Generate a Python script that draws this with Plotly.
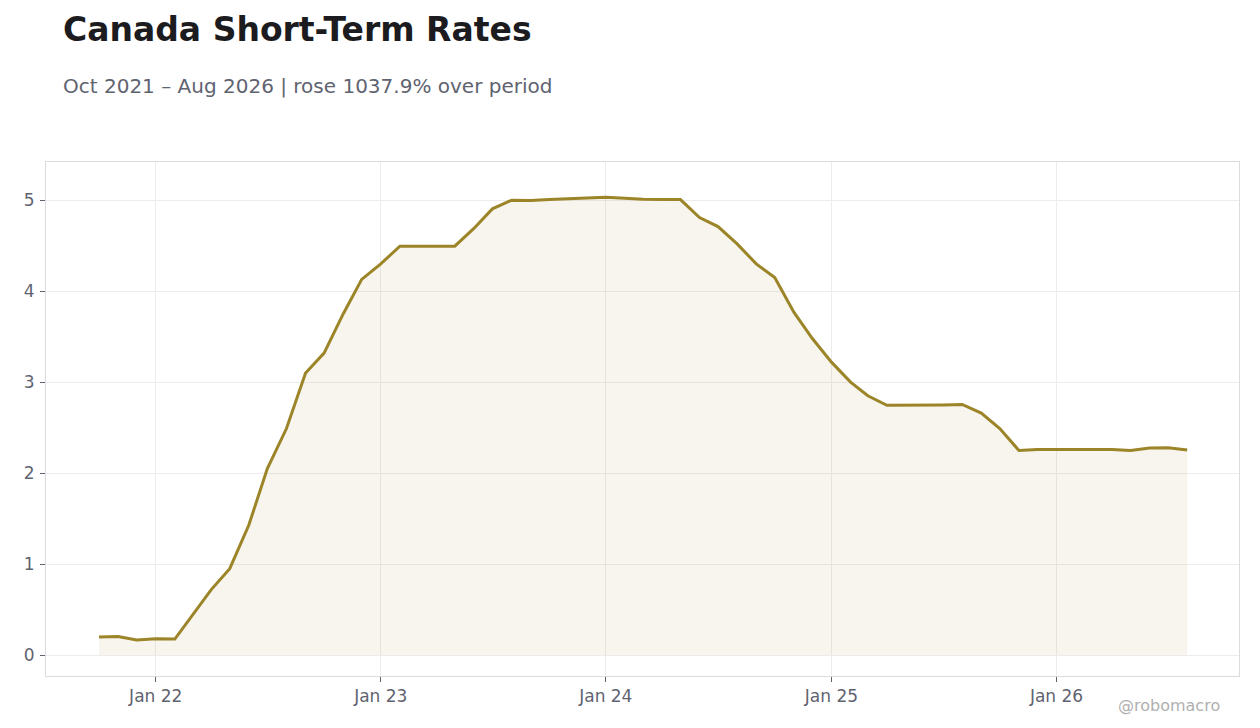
import pandas as pd
import plotly.graph_objects as go

# monthly short-term rate, %, Oct 2021 .. Aug 2026
months = pd.date_range("2021-10-01", "2026-08-01", freq="MS")
rates = [
    0.198, 0.205, 0.165, 0.18, 0.176, 0.44, 0.72, 0.95, 1.43, 2.05, 2.49, 3.10,
    3.32, 3.75, 4.13, 4.30, 4.495, 4.495, 4.495, 4.495, 4.69, 4.905, 5.00, 4.996,
    5.007, 5.018, 5.022, 5.033, 5.022, 5.01, 5.007, 5.007, 4.81, 4.71, 4.52, 4.30,
    4.15, 3.77, 3.48, 3.22, 3.00, 2.85, 2.745, 2.745, 2.748, 2.75, 2.755, 2.66,
    2.49, 2.25, 2.26, 2.26, 2.263, 2.268, 2.26, 2.25, 2.275, 2.278, 2.253,
]
x_ticks = ["2022-01-01", "2023-01-01", "2024-01-01", "2025-01-01", "2026-01-01"]
x_tick_text = ["Jan 22", "Jan 23", "Jan 24", "Jan 25", "Jan 26"]

LINE = "#9c8428"
FONT = "DejaVu Sans, sans-serif"

change = (rates[-1] / rates[0] - 1) * 100
subtitle = f"Oct 2021 – Aug 2026 | rose {change:.1f}% over period"

fig = go.Figure()
fig.add_trace(go.Scatter(
    x=months, y=rates, mode="lines",
    line=dict(color=LINE, width=3),
    fill="tozeroy", fillcolor="rgba(156,132,40,0.08)",
    hoverinfo="x+y",
))

fig.update_layout(
    width=1260, height=728,
    margin=dict(l=38, r=29, t=154, b=60),
    paper_bgcolor="white", plot_bgcolor="white",
    font=dict(family=FONT, color="#5f6370", size=17),
    showlegend=False,
    title=dict(
        text="<b>Canada Short-Term Rates</b>",
        x=55 / 1260, xanchor="left", xref="container",
        y=1 - 21 / 728, yanchor="middle", yref="container",
        font=dict(family=FONT, size=33, color="#1b1b20"),
    ),
    annotations=[
        dict(text=subtitle, xref="paper", yref="paper",
             x=(61 - 46) / 1193, y=1 + (162 - 86) / 514,
             xanchor="left", yanchor="middle", showarrow=False,
             font=dict(family=FONT, size=20, color="#5f6370")),
        dict(text="@robomacro", xref="paper", yref="paper",
             x=(1222 - 46) / 1193, y=-(705 - 676) / 514,
             xanchor="right", yanchor="middle", showarrow=False,
             font=dict(family=FONT, size=16, color="#b0b0b0")),
    ],
)

fig.update_xaxes(
    type="date", range=["2021-07-07", "2026-10-24"],
    tickvals=x_ticks, ticktext=x_tick_text,
    showgrid=True, gridcolor="#ececec", gridwidth=1,
    showline=True, linecolor="#dcdcdc", linewidth=1, mirror=True,
    ticks="outside", ticklen=5, tickcolor="#5f6370", zeroline=False,
)
fig.update_yaxes(
    range=[-0.23, 5.42], tickvals=[0, 1, 2, 3, 4, 5],
    showgrid=True, gridcolor="#ececec", gridwidth=1,
    showline=True, linecolor="#dcdcdc", linewidth=1, mirror=True,
    ticks="outside", ticklen=5, tickcolor="#5f6370", zeroline=False,
    ticklabelstandoff=2,
)

fig.write_html("out.html")
